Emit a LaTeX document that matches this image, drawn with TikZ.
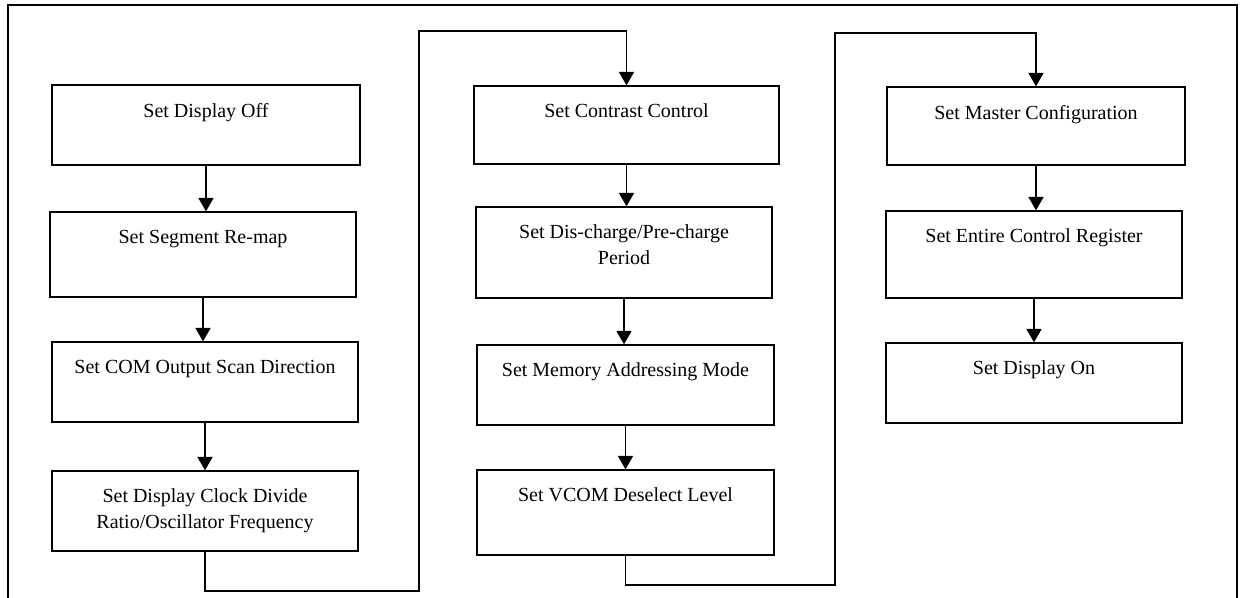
\documentclass[tikz,border=0pt]{standalone}
\usepackage{fontspec}
\setmainfont{Liberation Serif}
\usetikzlibrary{shapes,arrows,arrows.meta,positioning}

\tikzset{
  stepbox/.style={draw, line width=0.8pt, inner sep=0pt},
  steptext/.style={anchor=north, inner sep=0pt, yshift=-11pt, align=center,
                   font=\fontsize{12}{15.6}\selectfont},
  flow/.style={line width=0.8pt, ->, >={Triangle[width=9pt,length=8pt]}}
}

\begin{document}
\begin{tikzpicture}[x=0.6pt,y=-0.6pt]
\useasboundingbox (0,0) rectangle (1245,598);

% to draw outer frame
\draw [line width=0.8pt] (8,598) -- (8,5) -- (1237,5) -- (1237,598);

% first column
\node [stepbox, minimum width=184.8pt, minimum height=48pt] (off) at (206,125)
  [label={[steptext]north:Set Display Off}] {};
\node [stepbox, minimum width=183.6pt, minimum height=51pt] (remap) at (203,254.5)
  [label={[steptext]north:Set Segment Re-map}] {};
\node [stepbox, minimum width=183.6pt, minimum height=48pt] (comscan) at (205,382)
  [label={[steptext]north:Set COM Output Scan Direction}] {};
\node [stepbox, minimum width=183.6pt, minimum height=48pt] (clockdiv) at (205,511)
  [label={[steptext]north:{Set Display Clock Divide\\Ratio/Oscillator Frequency}}] {};

% second column
\node [stepbox, minimum width=183pt, minimum height=46.8pt] (contrast) at (626.5,125)
  [label={[steptext]north:Set Contrast Control}] {};
\node [stepbox, minimum width=177.6pt, minimum height=54.6pt] (precharge) at (624,252.5)
  [label={[steptext]north:{Set Dis-charge/Pre-charge\\Period}}] {};
\node [stepbox, minimum width=178.2pt, minimum height=48pt] (memmode) at (625.5,385)
  [label={[steptext]north:Set Memory Addressing Mode}] {};
\node [stepbox, minimum width=178.2pt, minimum height=51pt] (vcom) at (625.5,512.5)
  [label={[steptext]north:Set VCOM Deselect Level}] {};

% third column
\node [stepbox, minimum width=178.8pt, minimum height=46.8pt] (master) at (1036,126)
  [label={[steptext]north:Set Master Configuration}] {};
\node [stepbox, minimum width=177.6pt, minimum height=52.2pt] (entire) at (1034,254.5)
  [label={[steptext]north:Set Entire Control Register}] {};
\node [stepbox, minimum width=177.6pt, minimum height=48pt] (on) at (1034,383)
  [label={[steptext]north:Set Display On}] {};

% to draw arrows inside columns
\draw [flow] (off.south) -- (off.south |- remap.north);
\draw [flow] (remap.south) -- (remap.south |- comscan.north);
\draw [flow] (comscan.south) -- (comscan.south |- clockdiv.north);
\draw [flow] (contrast.south) -- (contrast.south |- precharge.north);
\draw [flow] (precharge.south) -- (precharge.south |- memmode.north);
\draw [flow] (memmode.south) -- (memmode.south |- vcom.north);
\draw [flow] (master.south) -- (master.south |- entire.north);
\draw [flow] (entire.south) -- (entire.south |- on.north);

% to draw arrows between columns
\coordinate (lowA) at (419,591);
\coordinate (topA) at (419,31);
\coordinate (lowB) at (835,585);
\coordinate (topB) at (835,33);
\draw [flow] (clockdiv.south) |- (lowA) -- (topA) -| (contrast.north);
\draw [flow] (vcom.south) |- (lowB) -- (topB) -| (master.north);
\end{tikzpicture}
\end{document}
